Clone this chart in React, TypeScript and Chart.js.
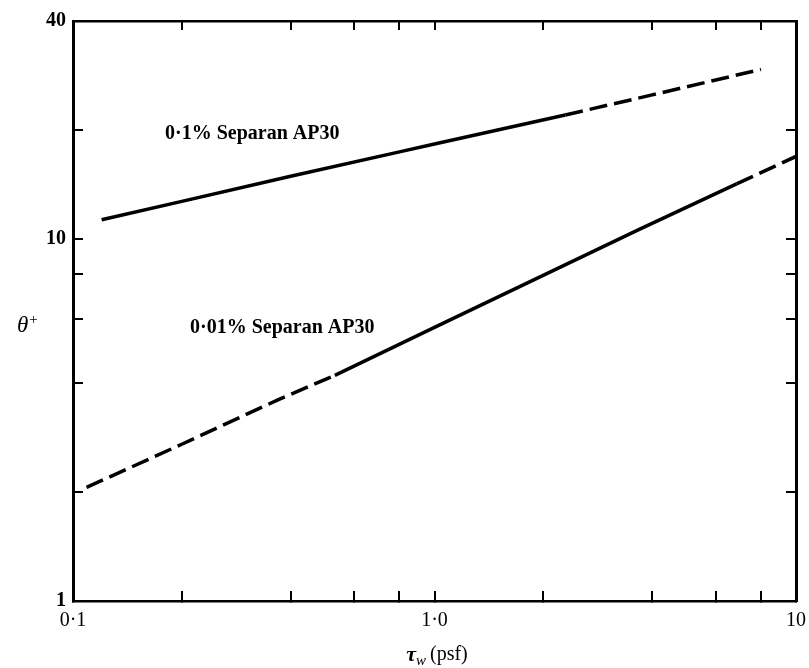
import React, { useEffect, useRef } from 'react';
import { Chart, registerables } from 'chart.js';

Chart.register(...registerables);

// 0·1% Separan AP30 curve
const upperSolidX = [0.12, 0.2, 0.4, 0.8, 1.0, 2.3];
const upperSolidY = [11.3, 12.7, 14.9, 17.4, 18.3, 22.0];
const upperDashX = [2.3, 4.0, 8.0];
const upperDashY = [22.0, 25.0, 29.4];

// 0·01% Separan AP30 curve
const lowerDashStartX = [0.109, 0.2, 0.37, 0.53];
const lowerDashStartY = [2.06, 2.71, 3.6, 4.2];
const lowerSolidX = [0.53, 1.0, 3.66, 6.85];
const lowerSolidY = [4.2, 5.7, 10.6, 14.2];
const lowerDashEndX = [6.85, 10];
const lowerDashEndY = [14.2, 16.9];

const xTickValues = [0.1, 0.2, 0.4, 0.6, 0.8, 1, 2, 4, 6, 8, 10];
const xTickLabels = ['0·1', '', '', '', '', '1·0', '', '', '', '', '10'];
const yTickValues = [1, 2, 4, 6, 8, 10, 20, 40];
const yTickLabels = ['1', '', '', '', '', '10', '', '40'];

const annotationUpper = '0·1% Separan AP30';
const annotationLower = '0·01% Separan AP30';

const SERIF = '"Liberation Serif", "DejaVu Serif", serif';

function pts(xs: number[], ys: number[]) {
  return xs.map((x, i) => ({ x, y: ys[i] }));
}

function labelFor(values: number[], labels: string[], v: number) {
  for (let i = 0; i < values.length; i++) {
    if (Math.abs(values[i] - v) < 1e-9 * Math.max(1, v)) return labels[i];
  }
  return '';
}

const textPlugin = {
  id: 'textPlugin',
  afterDraw(chart: any) {
    const ctx = chart.ctx as CanvasRenderingContext2D;
    ctx.save();
    ctx.fillStyle = '#000';
    ctx.textBaseline = 'middle';
    ctx.textAlign = 'left';
    // curve annotations
    ctx.font = `bold 20px ${SERIF}`;
    ctx.fillText(annotationUpper, 165, 134);
    ctx.fillText(annotationLower, 190, 328);

    // y-axis title θ+
    ctx.font = `italic 23px ${SERIF}`;
    ctx.fillText('θ', 17, 326);
    const tw = ctx.measureText('θ').width;
    ctx.font = `15px ${SERIF}`;
    ctx.fillText('+', 17 + tw + 1, 320);

    // x-axis title τw (psf)
    ctx.font = `bold italic 22px ${SERIF}`;
    const tauW = ctx.measureText('τ').width;
    ctx.font = `italic 15px ${SERIF}`;
    const wW = ctx.measureText('w').width;
    ctx.font = `20px ${SERIF}`;
    const psfW = ctx.measureText('(psf)').width;
    const total = tauW + wW + 4 + psfW;
    let x = 437 - total / 2;
    const y = 655;
    ctx.font = `bold italic 22px ${SERIF}`;
    ctx.fillText('τ', x, y);
    x += tauW;
    ctx.font = `italic 15px ${SERIF}`;
    ctx.fillText('w', x, y + 6);
    x += wW + 4;
    ctx.font = `20px ${SERIF}`;
    ctx.fillText('(psf)', x, y);
    ctx.restore();
  },
};

export default function App() {
  const canvasRef = useRef<HTMLCanvasElement | null>(null);

  useEffect(() => {
    const canvas = canvasRef.current;
    if (!canvas) return;
    const lineBase = {
      showLine: true,
      pointRadius: 0,
      borderColor: '#000',
      backgroundColor: '#000',
      borderWidth: 3.5,
      tension: 0,
      fill: false,
    };
    const dash = [18, 7];
    const gridInside = (len: number) => ({
      display: true,
      drawOnChartArea: false,
      drawTicks: true,
      tickLength: len,
      lineWidth: 2,
      color: '#000',
    });
    const xTicksBuild = (s: any) => {
      s.ticks = xTickValues.map((v) => ({ value: v }));
    };
    const yTicksBuild = (s: any) => {
      s.ticks = yTickValues.map((v) => ({ value: v }));
    };
    const zeroPad = (s: any) => {
      s.paddingLeft = 0;
      s.paddingRight = 0;
      s.paddingTop = 0;
      s.paddingBottom = 0;
    };

    const chart = new Chart(canvas, {
      type: 'scatter',
      data: {
        datasets: [
          { ...lineBase, data: pts(upperSolidX, upperSolidY) },
          { ...lineBase, borderDash: dash, data: pts(upperDashX, upperDashY) },
          { ...lineBase, borderDash: dash, data: pts(lowerDashStartX, lowerDashStartY) },
          { ...lineBase, data: pts(lowerSolidX, lowerSolidY) },
          { ...lineBase, borderDash: dash, data: pts(lowerDashEndX, lowerDashEndY) },
        ],
      },
      options: {
        animation: false,
        responsive: false,
        devicePixelRatio: 1,
        layout: { padding: 0 },
        plugins: {
          legend: { display: false },
          tooltip: { enabled: false },
          title: { display: false },
        },
        scales: {
          x: {
            type: 'logarithmic',
            position: 'bottom',
            min: 0.1,
            max: 10,
            afterBuildTicks: xTicksBuild,
            afterFit: (s: any) => {
              s.height = 67;
              zeroPad(s);
            },
            ticks: {
              autoSkip: false,
              maxRotation: 0,
              minRotation: 0,
              padding: 18,
              color: '#000',
              font: { family: SERIF, size: 20 },
              callback: (v: any) => labelFor(xTickValues, xTickLabels, Number(v)),
            },
            grid: gridInside(-10),
            border: { display: true, width: 2.5, color: '#000' },
          },
          x2: {
            type: 'logarithmic',
            position: 'top',
            min: 0.1,
            max: 10,
            afterBuildTicks: xTicksBuild,
            afterFit: (s: any) => {
              s.height = 21;
              zeroPad(s);
            },
            ticks: { display: false },
            grid: gridInside(-9),
            border: { display: true, width: 2.5, color: '#000' },
          },
          y: {
            type: 'logarithmic',
            position: 'left',
            min: 1,
            max: 40,
            afterBuildTicks: yTicksBuild,
            afterFit: (s: any) => {
              s.width = 73;
              zeroPad(s);
            },
            ticks: {
              autoSkip: false,
              padding: 17,
              color: '#000',
              font: { family: SERIF, size: 20, weight: 'bold' },
              callback: (v: any) => labelFor(yTickValues, yTickLabels, Number(v)),
            },
            grid: gridInside(-10),
            border: { display: true, width: 3, color: '#000' },
          },
          y2: {
            type: 'logarithmic',
            position: 'right',
            min: 1,
            max: 40,
            afterBuildTicks: yTicksBuild,
            afterFit: (s: any) => {
              s.width = 13;
              zeroPad(s);
            },
            ticks: { display: false },
            grid: gridInside(-10),
            border: { display: true, width: 3, color: '#000' },
          },
        },
      } as any,
      plugins: [textPlugin],
    });
    return () => {
      chart.destroy();
    };
  }, []);

  return (
    <div style={{ position: 'absolute', left: 0, top: 0, width: 809, height: 668, background: '#fff' }}>
      <canvas ref={canvasRef} width={809} height={668} style={{ display: 'block' }} />
    </div>
  );
}
